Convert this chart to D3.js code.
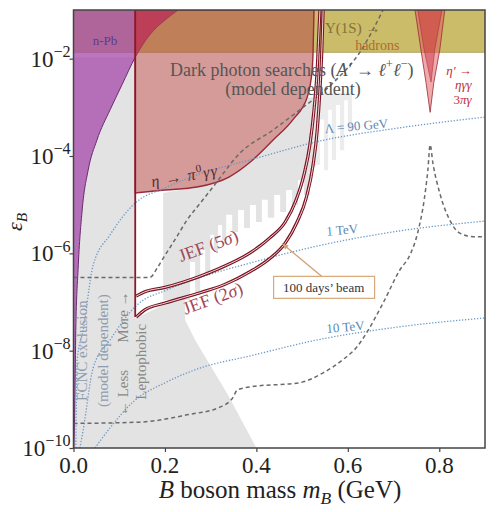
<!DOCTYPE html>
<html><head><meta charset="utf-8">
<script src="https://cdn.jsdelivr.net/npm/d3@7"></script>
<style>body{margin:0;background:#fff}svg{display:block}text{font-family:"Liberation Serif","DejaVu Serif",serif}</style>
</head><body><svg id="c" width="500" height="512"></svg>
<script>
// ---------- data (mass in GeV, coupling eps_B) ----------
const xTicks = [0, 0.2, 0.4, 0.6, 0.8];
const yTickExp = [-10, -8, -6, -4, -2];
const bandLow = 1.35e-2; // Upsilon(1S) -> hadrons lower edge

const nPbMass = [0.001, 0.003, 0.005, 0.010, 0.019, 0.032, 0.051, 0.080, 0.106, 0.135, 0.167, 0.200, 0.229];
const nPbEps  = [1e-10, 9.8e-10, 2.6e-8, 4.6e-7, 7.8e-6, 5.1e-5, 2.1e-4, 8.9e-4, 2.9e-3, 1.07e-2, 3.1e-2, 6.2e-2, 1e-1];

const etaPi0Mass = [0.135, 0.20, 0.27, 0.34, 0.39, 0.436, 0.48, 0.511, 0.522, 0.524, 0.526];
const etaPi0Eps  = [1.74e-5, 2.0e-5, 2.3e-5, 3.7e-5, 8e-5, 2.1e-4, 5.6e-4, 1.6e-3, 5.9e-3, 1.4e-2, 1e-1];

const fcncMass = [0, 0.40, 0.338, 0.266, 0.222, 0.196, 0.135, 0.135, 0];
const fcncEps  = [1e-10, 1e-10, 1.23e-9, 1.66e-8, 1.1e-7, 8.7e-8, 4.6e-8, 1.07e-2, 1.07e-2];

// dark-photon exclusion: jagged lower edge, then upper edge back
const dpLowMass = [0.196, 0.196, 0.211, 0.229, 0.244, 0.255, 0.266, 0.277, 0.288, 0.299, 0.307, 0.316, 0.325, 0.334, 0.347, 0.360, 0.373, 0.386, 0.399, 0.412, 0.425, 0.439, 0.452, 0.465, 0.478, 0.491, 0.504, 0.517, 0.524];
const dpLowEps  = [1.74e-5, 1.1e-7, 2.6e-8, 2.1e-8, 1.1e-7, 6.6e-7, 1.4e-7, 1.18e-6, 3.5e-7, 2.4e-6, 1.07e-6, 3.8e-6, 1.86e-6, 6.2e-6, 2.75e-6, 7.8e-6, 3.3e-6, 9.8e-6, 4.4e-6, 1.26e-5, 5.4e-6, 1.58e-5, 7.1e-6, 2.0e-5, 9.8e-6, 3.2e-5, 1.58e-5, 5.1e-5, 6.0e-5];
const dpTopMass = [0.524, 0.511, 0.48, 0.436, 0.39, 0.34, 0.27];
const dpTopEps  = [1.6e-3, 1.6e-3, 5.6e-4, 2.1e-4, 8e-5, 3.7e-5, 2.3e-5];
const dpRightMass = [0.524, 0.530, 0.539, 0.548, 0.557, 0.565, 0.574, 0.583, 0.592, 0.600, 0.609];
const dpRightEps  = [6.0e-5, 6.6e-5, 5.6e-4, 5.1e-5, 8.9e-4, 8.3e-5, 1.12e-3, 1.32e-4, 1.4e-3, 3.4e-4, 1.8e-3];
const dpRightTop = 2.0e-3;

const etapOuterMass = [0.747, 0.760, 0.771, 0.780, 0.788, 0.801, 0.812];
const etapOuterEps  = [1e-1, 1.5e-2, 3.2e-3, 7.9e-4, 3.2e-3, 1.5e-2, 1e-1];
const etapInnerMass = [0.753, 0.767, 0.782, 0.790, 0.806];
const etapInnerEps  = [1e-1, 1.5e-2, 3.3e-3, 1.5e-2, 1e-1];

const jef5Mass = [0.137,0.156,0.200,0.277,0.331,0.386,0.430,0.463,0.487,0.504,0.517,0.526,0.533,0.537,0.539];
const jef5Eps  = [1.32e-7,1.62e-7,2.0e-7,3.4e-7,5.5e-7,1.02e-6,2.1e-6,4.4e-6,1.26e-5,4.1e-5,1.7e-4,8.9e-4,5.9e-3,3.9e-2,1e-1];
const jef2Mass = [0.137,0.156,0.200,0.277,0.331,0.386,0.430,0.463,0.489,0.509,0.524,0.533,0.539,0.543,0.546];
const jef2Eps  = [4.9e-8,6.9e-8,9.5e-8,1.55e-7,2.3e-7,4.2e-7,7.9e-7,1.62e-6,4.4e-6,1.38e-5,6.6e-5,3.4e-4,2.3e-3,1.38e-2,1e-1];
const pionMass = 0.135;

const dashAMass = [0, 0.167, 0.183, 0.196, 0.226, 0.248, 0.277, 0.305, 0.364, 0.436, 0.495, 0.568, 0.627, 0.677];
const dashAEps  = [3.2e-7, 3.2e-7, 5.0e-7, 7.9e-7, 2.2e-6, 4.8e-6, 1.07e-5, 2.3e-5, 1.15e-4, 3.4e-4, 8.9e-4, 3.2e-3, 1.38e-2, 1e-1];
const dashBMass = [0, 0.145, 0.248, 0.320, 0.349, 0.358, 0.386, 0.495, 0.546, 0.589, 0.620, 0.631, 0.677, 0.714, 0.736, 0.753, 0.767, 0.775, 0.780, 0.786, 0.801, 0.823, 0.845, 0.874, 0.900];
const dashBEps  = [3.2e-10, 3.4e-10, 4.8e-10, 6.9e-10, 1.1e-9, 1.55e-9, 1.8e-9, 2.2e-9, 3.5e-9, 6.5e-9, 1.2e-8, 1.66e-8, 9.5e-8, 4.6e-7, 9.3e-7, 2.7e-6, 1.26e-5, 5.1e-5, 1.7e-4, 7.2e-5, 1.74e-5, 4.8e-6, 2.6e-6, 2.2e-6, 2.2e-6];

const lam90Mass = [0.005, 0.008, 0.021, 0.043, 0.080, 0.130, 0.205, 0.277, 0.386, 0.546, 0.714, 0.900];
const lam90Eps  = [1e-10, 6.5e-9, 2.6e-8, 5.7e-7, 2.4e-6, 9.8e-6, 2.3e-5, 4.3e-5, 8.3e-5, 2.1e-4, 3.8e-4, 6.3e-4];
const lam1Mass = [0.014, 0.021, 0.043, 0.080, 0.139, 0.205, 0.277, 0.386, 0.533, 0.714, 0.900];
const lam1Eps  = [1e-10, 2.3e-10, 4.4e-9, 1.66e-8, 8.7e-8, 1.78e-7, 3.2e-7, 6.3e-7, 1.41e-6, 2.9e-6, 4.6e-6];
const lam10Mass = [0.047, 0.080, 0.130, 0.205, 0.277, 0.386, 0.533, 0.714, 0.900];
const lam10Eps  = [1e-10, 2.6e-10, 8.8e-10, 2.3e-9, 4.4e-9, 7.8e-9, 1.66e-8, 3.1e-8, 4.7e-8];

// ---------- setup ----------
const svg = d3.select("#c");
const X0 = 73.5, X1 = 485, Y0 = 448, Y1 = 10;
const x = d3.scaleLinear().domain([0, 0.9]).range([X0, X1]);
const y = d3.scaleLog().domain([1e-10, 1e-1]).range([Y0, Y1]);
const zip = (a, b) => a.map((v, i) => [v, b[i]]);
const lin = d3.line().x(d => x(d[0])).y(d => y(d[1]));
const mono = d3.line().x(d => x(d[0])).y(d => y(d[1])).curve(d3.curveMonotoneX);
const step = d3.line().x(d => x(d[0])).y(d => y(d[1])).curve(d3.curveStepAfter);

const defs = svg.append("defs");
defs.append("clipPath").attr("id", "pc").append("rect")
  .attr("x", X0).attr("y", Y1).attr("width", X1 - X0).attr("height", Y0 - Y1);
const g = svg.append("g").attr("clip-path", "url(#pc)");

// grey regions
g.append("path").attr("d", lin(zip(fcncMass, fcncEps)) + "Z").attr("fill", "#e3e3e3");
g.append("path").attr("d", step(zip(dpLowMass, dpLowEps)) + "L" + lin(zip(dpTopMass, dpTopEps)).slice(1) + "Z").attr("fill", "#e3e3e3");
g.append("path").attr("d", step(zip(dpRightMass, dpRightEps)) +
  `L${x(dpRightMass[dpRightMass.length - 1])},${y(dpRightTop)}L${x(dpRightMass[0])},${y(dpRightTop)}Z`).attr("fill", "#ececec");

// Upsilon band
g.append("rect").attr("x", X0).attr("width", X1 - X0)
  .attr("y", y(1e-1)).attr("height", y(bandLow) - y(1e-1)).attr("fill", "rgb(202,188,104)");
g.append("line").attr("x1", X0).attr("x2", X1).attr("y1", y(bandLow)).attr("y2", y(bandLow))
  .attr("stroke", "#a89850").attr("stroke-width", 0.8);

// n-Pb
const nPb = zip(nPbMass, nPbEps);
const nPbArea = mono(nPb) + `L${x(0)},${y(1e-1)}L${x(0)},${y(1e-10)}Z`;
defs.append("clipPath").attr("id", "npbclip").append("path").attr("d", nPbArea);
g.append("path").attr("d", nPbArea).attr("fill", "rgb(165,72,170)").attr("fill-opacity", 0.75);
g.append("path").attr("d", mono(nPb)).attr("fill", "none").attr("stroke", "#6a2a70").attr("stroke-width", 1);

// eta -> pi0 gamma gamma
const etaPath = `M${x(pionMass)},${y(1e-1)}L` + mono(zip(etaPi0Mass, etaPi0Eps)).slice(1) + "Z";
g.append("path").attr("d", etaPath)
  .attr("fill", "rgb(183,83,78)").attr("fill-opacity", 0.58)
  .attr("stroke", "#9a2a3a").attr("stroke-width", 1.4);
g.append("g").attr("clip-path", "url(#npbclip)").append("path").attr("d", etaPath)
  .attr("fill", "rgb(200,30,60)").attr("fill-opacity", 0.45);

// eta' spikes
g.append("path").attr("d", lin(zip(etapOuterMass, etapOuterEps)) + "Z")
  .attr("fill", "rgb(225,85,90)").attr("fill-opacity", 0.5).attr("stroke", "#9a2a3a").attr("stroke-width", 0.8);
g.append("path").attr("d", lin(zip(etapInnerMass, etapInnerEps)) + "Z")
  .attr("fill", "rgb(205,40,60)").attr("fill-opacity", 0.45).attr("stroke", "#9a2a3a").attr("stroke-width", 0.5);

// dotted Lambda lines
[[lam90Mass, lam90Eps], [lam1Mass, lam1Eps], [lam10Mass, lam10Eps]].forEach(([m, e]) => {
  g.append("path").attr("d", mono(zip(m, e))).attr("fill", "none")
    .attr("stroke", "#6a98c8").attr("stroke-width", 1.3).attr("stroke-dasharray", "1.3,1.7");
});
// dashed grey lines
[[dashAMass, dashAEps], [dashBMass, dashBEps]].forEach(([m, e]) => {
  g.append("path").attr("d", mono(zip(m, e))).attr("fill", "none")
    .attr("stroke", "#6a6a6a").attr("stroke-width", 1.5).attr("stroke-dasharray", "4,3");
});

// JEF curves
[[jef5Mass, jef5Eps], [jef2Mass, jef2Eps]].forEach(([m, e]) => {
  const d = mono(zip(m, e));
  g.append("path").attr("d", d).attr("fill", "none").attr("stroke", "#7a1424").attr("stroke-width", 3.2);
  g.append("path").attr("d", d).attr("fill", "none").attr("stroke", "#f3d8d8").attr("stroke-width", 1.0);
});
g.append("line").attr("x1", x(pionMass)).attr("x2", x(pionMass))
  .attr("y1", y(1e-1)).attr("y2", y(jef2Eps[0])).attr("stroke", "#8a1a2a").attr("stroke-width", 1.8);

// ---------- text ----------
function addText(parent, parts, px, py, o) {
  const t = parent.append("text").attr("transform", `translate(${px},${py}) rotate(${o.rot || 0})`)
    .attr("text-anchor", o.anchor || "start").attr("font-size", o.size).attr("fill", o.color);
  if (o.spacing) t.attr("letter-spacing", o.spacing);
  let cur = 0;
  parts.forEach(p => {
    if (typeof p === "string") p = {t: p};
    const target = p.sup ? -0.42 * o.size : p.sub ? 0.22 * o.size : 0;
    const s = t.append("tspan").text(p.t);
    if (target !== cur) s.attr("dy", target - cur);
    cur = target;
    if (p.sup || p.sub) s.attr("font-size", o.size * 0.7);
    if (p.i) s.attr("font-style", "italic");
  });
  return t;
}
const tg = svg.append("g").attr("clip-path", "url(#pc)");
addText(tg, ["n-Pb"], x(0.069), y(1.9e-2), {size: 13, color: "#5a3a98", anchor: "middle"});
addText(tg, ["Dark photon searches (", {t: "A′", i: true}, " → ", {t: "ℓ", i: true}, {t: "+", sup: true}, {t: "ℓ", i: true}, {t: "−", sup: true}, ")"],
  x(0.211), y(4.4e-3), {size: 18, color: "#555"});
addText(tg, ["(model dependent)"], x(0.48), y(1.8e-3), {size: 18, color: "#555", anchor: "middle"});
addText(tg, ["Υ(1S) →"], x(0.55), y(3.4e-2), {size: 15, color: "#86703c"});
addText(tg, ["hadrons"], x(0.616), y(1.5e-2), {size: 14, color: "#b06a30"});
addText(tg, [{t: "η′", i: true}, " →"], x(0.871), y(4.6e-3), {size: 13, color: "#c0303a", anchor: "end"});
addText(tg, [{t: "ηγγ", i: true}], x(0.871), y(2.4e-3), {size: 13, color: "#c0303a", anchor: "end"});
addText(tg, ["3", {t: "πγ", i: true}], x(0.871), y(1.17e-3), {size: 13, color: "#c0303a", anchor: "end"});
addText(tg, ["Λ = 90 GeV"], x(0.55), y(2.95e-4), {size: 13, color: "#5a8ab5", rot: -5});
addText(tg, ["1 TeV"], x(0.554), y(2.3e-6), {size: 13, color: "#5a8ab5", rot: -5});
addText(tg, ["10 TeV"], x(0.554), y(2.3e-8), {size: 13, color: "#5a8ab5", rot: -5});
addText(tg, [{t: "η", i: true}, " → ", {t: "π", i: true}, {t: "0", sup: true}, {t: "γγ", i: true}], x(0.172), y(2.3e-5), {size: 16, color: "#5a2a2a", rot: -10, spacing: 1.2});
addText(tg, ["JEF (5", {t: "σ", i: true}, ")"], x(0.235), y(6.6e-7), {size: 18, color: "#a04858", rot: -20});
addText(tg, ["JEF (2", {t: "σ", i: true}, ")"], x(0.245), y(5.5e-8), {size: 18, color: "#a04858", rot: -20});
addText(tg, ["FCNC exclusion"], x(0.03), y(1e-8), {size: 15, color: "#8e9cb0", rot: -90, anchor: "middle"});
addText(tg, ["(model dependent)"], x(0.075), y(1e-8), {size: 15, color: "#8e9cb0", rot: -90, anchor: "middle"});
addText(tg, ["More →"], x(0.12), y(4.9e-8), {size: 15, color: "#888", rot: -90, anchor: "middle"});
addText(tg, ["Leptophobic"], x(0.158), y(5.9e-9), {size: 15, color: "#888", rot: -90, anchor: "middle"});
addText(tg, ["← Less"], x(0.12), y(1.35e-9), {size: 15, color: "#888", rot: -90, anchor: "middle"});

// annotation box
const bx = x(0.547), by = y(2.0e-7);
const ax = x(0.456), ay = y(1.6e-6);
svg.append("line").attr("x1", bx - 2).attr("y1", by - 11).attr("x2", ax).attr("y2", ay)
  .attr("stroke", "#d4a070").attr("stroke-width", 1.3);
const ang = Math.atan2(ay - (by - 11), ax - (bx - 2));
svg.append("path").attr("d", `M${ax},${ay}L${ax - 7 * Math.cos(ang - 0.4)},${ay - 7 * Math.sin(ang - 0.4)}L${ax - 7 * Math.cos(ang + 0.4)},${ay - 7 * Math.sin(ang + 0.4)}Z`)
  .attr("fill", "#d4a070");
svg.append("rect").attr("x", bx - 50).attr("y", by - 11).attr("width", 101).attr("height", 22)
  .attr("fill", "#fff").attr("stroke", "#d8a878").attr("stroke-width", 1.2);
addText(svg, ["100 days’ beam"], bx, by + 5, {size: 13, color: "#333", anchor: "middle"});

// ---------- frame & axes ----------
svg.append("rect").attr("x", X0).attr("y", Y1).attr("width", X1 - X0).attr("height", Y0 - Y1)
  .attr("fill", "none").attr("stroke", "#444").attr("stroke-width", 1.5);
const yAx = svg.append("g").attr("transform", `translate(${X0},0)`)
  .call(d3.axisLeft(y).tickValues(yTickExp.map(e => Math.pow(10, e))).tickSize(4).tickFormat(""));
const xAx = svg.append("g").attr("transform", `translate(0,${Y0})`)
  .call(d3.axisBottom(x).tickValues(xTicks).tickSize(4).tickFormat(""));
[yAx, xAx].forEach(a => { a.select(".domain").remove(); a.selectAll("line").attr("stroke", "#444").attr("stroke-width", 1.2); });
yTickExp.forEach(e => {
  addText(svg, ["10", {t: "−" + (-e), sup: true}], X0 - 3, y(Math.pow(10, e)) + 8, {size: 23, color: "#222", anchor: "end"});
});
xTicks.forEach(v => {
  addText(svg, [d3.format(".1f")(v)], x(v), Y0 + 25, {size: 23, color: "#222", anchor: "middle"});
});
addText(svg, [{t: "B", i: true}, " boson mass ", {t: "m", i: true}, {t: "B", i: true, sub: true}, " (GeV)"], 280, 498, {size: 25, color: "#222", anchor: "middle"});
addText(svg, [{t: "ε", i: true}, {t: "B", i: true, sub: true}], 22, 222, {size: 22, color: "#222", anchor: "middle", rot: -90});
</script></body></html>
